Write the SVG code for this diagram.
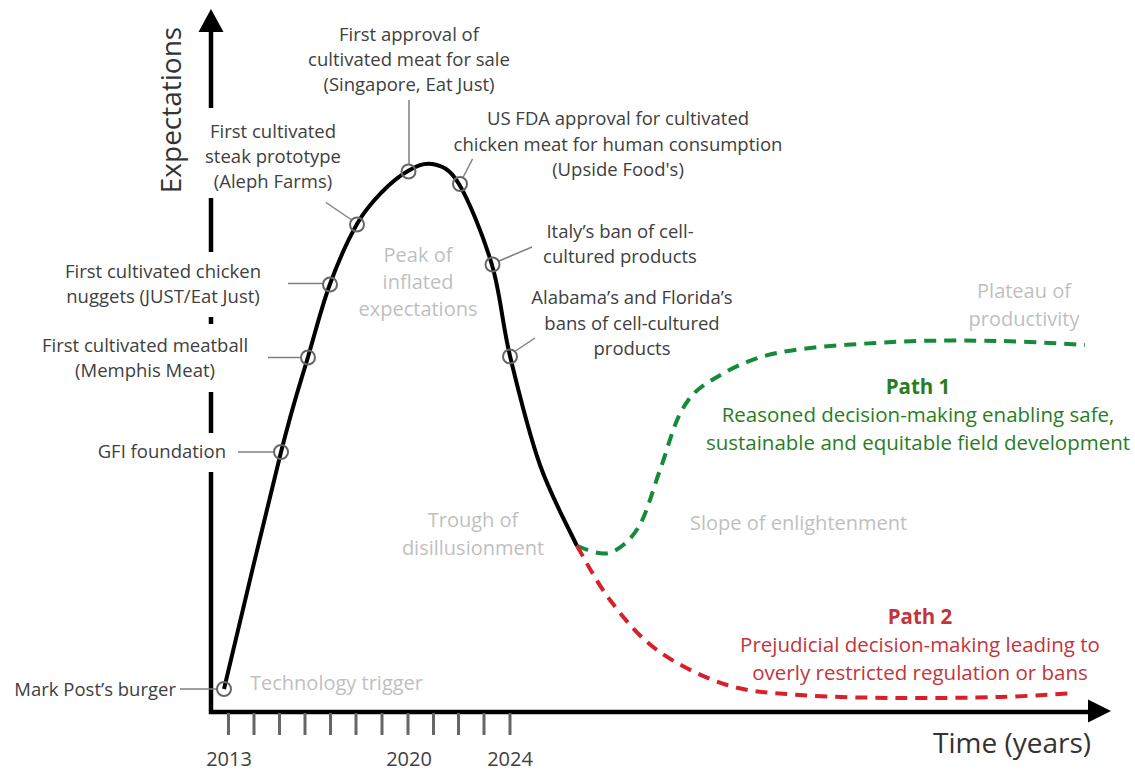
<svg xmlns="http://www.w3.org/2000/svg" width="1135" height="770" viewBox="0 0 1135 770">
<style>
text{font-family:"Open Sans","Liberation Sans",Arial,sans-serif}
.lbl{font-size:18.5px;fill:#404040;text-anchor:middle}
.phase{font-size:20px;fill:#bfbfbf}
.mid{text-anchor:middle}
.axis{stroke:#000;stroke-width:4.5;fill:none}
.tick{stroke:#666;stroke-width:3}
.lead{stroke:#7f7f7f;stroke-width:1.5;fill:none}
.dot{stroke:#666;stroke-width:2;fill:none}
.year{font-size:20px;fill:#404040;text-anchor:middle}
.ptitle{font-size:20.5px;font-weight:bold;text-anchor:middle}
.ptext{font-size:20.5px;text-anchor:middle}
</style>
<rect width="1135" height="770" fill="#fff"/>
<g id="axes">
<path class="axis" d="M211,30 V108 M211,198 V252 M211,317 V324 M211,392 V433 M211,472 V712 H1090"/>
<polygon points="211,9 198.5,32 223.5,32" fill="#000"/>
<polygon points="1111,711 1088,699.5 1088,722.5" fill="#000"/>
<g class="tick">
<line x1="228.5" y1="713" x2="228.5" y2="735"/><line x1="254" y1="713" x2="254" y2="735"/><line x1="279.5" y1="713" x2="279.5" y2="735"/><line x1="305" y1="713" x2="305" y2="735"/><line x1="330.5" y1="713" x2="330.5" y2="735"/><line x1="356" y1="713" x2="356" y2="735"/><line x1="382" y1="713" x2="382" y2="735"/><line x1="408" y1="713" x2="408" y2="735"/><line x1="433.5" y1="713" x2="433.5" y2="735"/><line x1="458.5" y1="713" x2="458.5" y2="735"/><line x1="484" y1="713" x2="484" y2="735"/><line x1="510" y1="713" x2="510" y2="735"/>
</g>
<text class="year" x="229" y="766">2013</text>
<text class="year" x="409" y="766">2020</text>
<text class="year" x="510" y="766">2024</text>
<text x="1012" y="753" font-size="28" fill="#333" text-anchor="middle">Time (years)</text>
<text transform="translate(181,110) rotate(-90)" font-size="28" fill="#333" text-anchor="middle">Expectations</text>
</g>
<g id="connectors">
<path d="M224,689 C233.5,649.5 267,507.3 281,452 C295,396.7 299.8,385 308,357 C316.2,329 321.8,306.2 330,284 C338.2,261.8 348.3,239.3 357,224 C365.7,208.7 373.5,200.8 382,192 C390.5,183.2 399.7,175.7 408,171 C416.3,166.3 423.5,162.5 432,164 C440.5,165.5 449,167.2 459,184 C469,200.8 483.5,236.3 492,265 C500.5,293.7 502,322.7 510,356 C518,389.3 528.8,433.3 540,465 C551.2,496.7 570.8,532.5 577,546" fill="none" stroke="#000" stroke-width="4"/>
<path id="path1" d="M577,546 C582,547.2 598,556 609,553 C619,550 629.2,541.8 638,528 C646.8,514.2 652.7,489.7 660,470 C667.3,450.3 673.3,425 682,410 C690.7,395 696.2,389.5 712,380 C727.8,370.5 746.8,359.3 777,353 C807.2,346.7 855.8,344 893,342 C930.2,340 968,340.5 1000,341 C1032,341.5 1070.8,344.3 1085,345" fill="none" stroke="#148a3a" stroke-width="4" stroke-dasharray="12 8"/>
<path id="path2" d="M577,546 C582.5,555 596.7,582.7 610,600 C623.3,617.3 637.5,635.8 657,650 C676.5,664.2 703.2,677.5 727,685 C750.8,692.5 771.2,692.8 800,695 C828.8,697.2 866.7,697.7 900,698 C933.3,698.3 970.8,697.8 1000,697 C1029.2,696.2 1062.5,693.7 1075,693" fill="none" stroke="#d81f2a" stroke-width="4" stroke-dasharray="12 8"/>
</g>
<g id="n-markpost">
<line class="lead" x1="180" y1="689" x2="217" y2="689"/>
<circle class="dot" cx="224" cy="689" r="7"/>
<text x="176" y="696" font-size="18.5" fill="#404040" text-anchor="end">Mark Post’s burger</text>
</g>
<g id="n-gfi">
<line class="lead" x1="238" y1="452" x2="274" y2="452"/>
<circle class="dot" cx="281" cy="452" r="7"/>
<text x="226" y="458" font-size="18.5" fill="#404040" text-anchor="end">GFI foundation</text>
</g>
<g id="n-meatball">
<line class="lead" x1="268" y1="357.5" x2="301" y2="357.5"/>
<circle class="dot" cx="308" cy="357.5" r="7"/>
<text class="lbl" x="145" y="352">First cultivated meatball</text>
<text class="lbl" x="145" y="377">(Memphis Meat)</text>
</g>
<g id="n-nuggets">
<line class="lead" x1="288" y1="283.5" x2="323" y2="283.5"/>
<circle class="dot" cx="330" cy="284.5" r="7"/>
<text class="lbl" x="163" y="278">First cultivated chicken</text>
<text class="lbl" x="163" y="303">nuggets (JUST/Eat Just)</text>
</g>
<g id="n-steak">
<line class="lead" x1="326" y1="202.5" x2="351" y2="219.5"/>
<circle class="dot" cx="357" cy="224.5" r="7"/>
<text class="lbl" x="273" y="138">First cultivated</text>
<text class="lbl" x="273" y="163">steak prototype</text>
<text class="lbl" x="273" y="188">(Aleph Farms)</text>
</g>
<g id="n-singapore">
<line class="lead" x1="409" y1="100" x2="409" y2="164"/>
<circle class="dot" cx="408.5" cy="171.5" r="7"/>
<text class="lbl" x="409" y="41">First approval of</text>
<text class="lbl" x="409" y="66">cultivated meat for sale</text>
<text class="lbl" x="409" y="91">(Singapore, Eat Just)</text>
</g>
<g id="n-fda">
<line class="lead" x1="472.5" y1="159" x2="463" y2="177.5"/>
<circle class="dot" cx="460" cy="184" r="7"/>
<text class="lbl" x="618" y="125">US FDA approval for cultivated</text>
<text class="lbl" x="618" y="151">chicken meat for human consumption</text>
<text class="lbl" x="618" y="176">(Upside Food's)</text>
</g>
<g id="n-italy">
<line class="lead" x1="499" y1="261" x2="532" y2="247"/>
<circle class="dot" cx="492.5" cy="264.5" r="7"/>
<text class="lbl" x="620" y="238">Italy’s ban of cell-</text>
<text class="lbl" x="620" y="263">cultured products</text>
</g>
<g id="n-alabama">
<line class="lead" x1="515.5" y1="351" x2="535" y2="338"/>
<circle class="dot" cx="510" cy="356.5" r="7"/>
<text class="lbl" x="632" y="304">Alabama’s and Florida’s</text>
<text class="lbl" x="632" y="330">bans of cell-cultured</text>
<text class="lbl" x="632" y="355">products</text>
</g>
<g id="phases">
<text class="phase" x="250" y="690">Technology trigger</text>
<text class="phase mid" x="418" y="262">Peak of</text>
<text class="phase mid" x="418" y="289">inflated</text>
<text class="phase mid" x="418" y="316">expectations</text>
<text class="phase mid" x="473" y="527">Trough of</text>
<text class="phase mid" x="473" y="555">disillusionment</text>
<text class="phase" x="690" y="530">Slope of enlightenment</text>
<text class="phase mid" x="1024" y="298">Plateau of</text>
<text class="phase mid" x="1024" y="326">productivity</text>
</g>
<g id="n-path1" fill="#2a7d1e">
<text class="ptitle" x="918" y="394">Path 1</text>
<text class="ptext" x="918" y="422">Reasoned decision-making enabling safe,</text>
<text class="ptext" x="918" y="450">sustainable and equitable field development</text>
</g>
<g id="n-path2" fill="#c4343a">
<text class="ptitle" x="920" y="624">Path 2</text>
<text class="ptext" x="920" y="652">Prejudicial decision-making leading to</text>
<text class="ptext" x="920" y="680">overly restricted regulation or bans</text>
</g>
</svg>
